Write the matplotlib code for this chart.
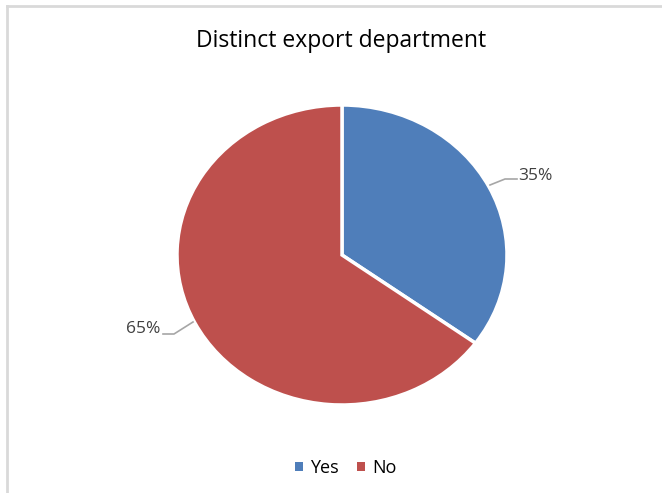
import matplotlib.pyplot as plt
from matplotlib.lines import Line2D
from matplotlib.patches import Patch

labels = ['Yes', 'No']
shares = [35, 65]
colors = ['#4F7EBA', '#BE504D']

W, H = 662, 493
fig = plt.figure(figsize=(W / 100, H / 100), dpi=100)
fig.patch.set_facecolor('white')
plt.rcParams['font.family'] = 'Open Sans'

# pixel helpers (origin top-left)
def fx(px):
    return px / W

def fy(py):
    return 1 - py / H

# chart frame, cut off on the right and bottom
fig.add_artist(Line2D([fx(7), fx(7)], [fy(6), 0], color='#d9d9d9', lw=2))
fig.add_artist(Line2D([fx(7), 1], [fy(6), fy(6)], color='#d9d9d9', lw=2))

# pie is slightly wider than tall
cx, cy, rx, ry = 342, 255, 165, 150
ax = fig.add_axes([0, 0, 1, 1])
wedges, _ = ax.pie(shares, colors=colors, startangle=90, counterclock=False,
                   wedgeprops=dict(edgecolor='white', linewidth=2.5))
ax.set_aspect('auto')
ax.set_xlim(-cx / rx, (W - cx) / rx)
ax.set_ylim(-(H - cy) / ry, cy / ry)
ax.axis('off')

# data labels with leader lines
def px2d(px, py):
    return (px - cx) / rx, (cy - py) / ry

lx, ly = zip(px2d(490, 185), px2d(505, 179), px2d(517, 179))
ax.plot(lx, ly, color='#a6a6a6', lw=1.2)
ax.text(*px2d(518, 176), f'{shares[0]}%', ha='left', va='center',
        fontsize=12.5, color='#404040')

lx, ly = zip(px2d(193, 322), px2d(174, 334), px2d(163, 334))
ax.plot(lx, ly, color='#a6a6a6', lw=1.2)
ax.text(*px2d(160, 329), f'{shares[1]}%', ha='right', va='center',
        fontsize=12.5, color='#404040')

fig.text(fx(341), fy(41), 'Distinct export department', ha='center', va='center',
         fontsize=16.5, color='black')

handles = [Patch(facecolor=c, label=l) for c, l in zip(colors, labels)]
fig.legend(handles=handles, loc='center', bbox_to_anchor=(fx(346), fy(468)),
           ncol=2, frameon=False, handlelength=0.45, handleheight=0.45,
           handletextpad=0.4, columnspacing=1.0, prop={'size': 13})

fig.savefig('out.png', dpi=100)
